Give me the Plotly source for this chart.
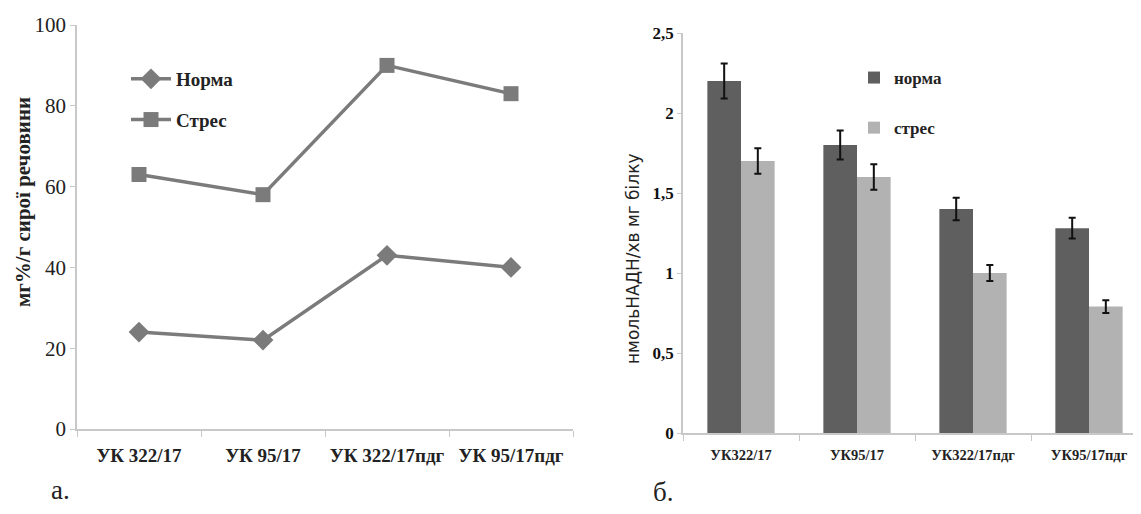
import plotly.graph_objects as go

categories = ["УК 322/17", "УК 95/17", "УК 322/17пдг", "УК 95/17пдг"]
norma_a = [24, 22, 43, 40]
stres_a = [63, 58, 90, 83]
norma_b = [2.2, 1.8, 1.4, 1.28]
stres_b = [1.7, 1.6, 1.0, 0.79]
norma_b_err = [0.11, 0.09, 0.07, 0.065]
stres_b_err = [0.08, 0.08, 0.05, 0.04]
right_labels = [c.replace(" ", "") for c in categories]

OFF = 8  # default body margin of the page
W, H = 1141 - OFF, 514 - OFF
serif = "Liberation Serif, Tinos, DejaVu Serif"
sans = "DejaVu Sans"
line_col = "#7b7b7b"
axis_col = "#c8c8c8"

fig = go.Figure()

fig.add_trace(go.Scatter(
    x=categories, y=norma_a, name="<b>Норма</b>", mode="lines+markers",
    line=dict(color=line_col, width=3.5),
    marker=dict(symbol="diamond", size=16, color=line_col),
    xaxis="x", yaxis="y", legend="legend", legendgroup="a1"))
fig.add_trace(go.Scatter(
    x=categories, y=stres_a, name="<b>Стрес</b>", mode="lines+markers",
    line=dict(color=line_col, width=3.5),
    marker=dict(symbol="square", size=15, color=line_col),
    xaxis="x", yaxis="y", legend="legend", legendgroup="a2"))

fig.add_trace(go.Bar(
    x=categories, y=norma_b, name="<b>норма</b>", marker=dict(color="#5f5f5f", line=dict(width=0)),
    error_y=dict(type="data", array=norma_b_err, color="#111111", thickness=2, width=3.5),
    xaxis="x2", yaxis="y2", legend="legend2", legendgroup="b1"))
fig.add_trace(go.Bar(
    x=categories, y=stres_b, name="<b>стрес</b>", marker=dict(color="#b2b2b2", line=dict(width=0)),
    error_y=dict(type="data", array=stres_b_err, color="#111111", thickness=2, width=3.5),
    xaxis="x2", yaxis="y2", legend="legend2", legendgroup="b2"))

def px_x(p):
    return (p - OFF) / W

def px_y(p):
    return 1 - (p - OFF) / H

# right x-axis runs to the picture edge: 683 px start, 116 px per category
CAT_W = 116
right_end = -0.5 + (1141 - 683) / CAT_W

fig.update_layout(
    width=W, height=H,
    margin=dict(l=0, r=0, t=0, b=0),
    paper_bgcolor="white", plot_bgcolor="white",
    separators=", ",
    bargap=0.42, bargroupgap=0,
    showlegend=True,
    font=dict(family=serif),
    xaxis=dict(domain=[px_x(77), px_x(573)], anchor="y", automargin=False, range=[-0.5, 3.5],
               showline=True, linecolor=axis_col, linewidth=1.5,
               ticks="outside", tickson="boundaries", ticklen=6, tickcolor=axis_col,
               ticklabelstandoff=8,
               showgrid=False, zeroline=False,
               tickfont=dict(family=serif, size=19, color="#222", weight="bold")),
    yaxis=dict(domain=[px_y(429), px_y(25)], anchor="x", automargin=False, range=[0, 100], dtick=20,
               showline=True, linecolor=axis_col, linewidth=1.5, ticks="outside", ticklen=5,
               tickcolor=axis_col, showgrid=False, zeroline=False,
               tickfont=dict(family=serif, size=21, color="#222")),
    xaxis2=dict(domain=[px_x(683), 1], anchor="y2", automargin=False, range=[-0.5, right_end],
                showline=True, linecolor=axis_col, linewidth=1.5,
                tickmode="array", tickvals=categories, ticktext=right_labels,
                ticks="outside", tickson="boundaries", ticklen=6, tickcolor=axis_col,
                ticklabelstandoff=8,
                showgrid=False, zeroline=False,
                tickfont=dict(family=serif, size=14.5, color="#222", weight="bold")),
    yaxis2=dict(domain=[px_y(433), px_y(33)], anchor="x2", automargin=False, range=[0, 2.5], dtick=0.5,
                showline=True, linecolor=axis_col, linewidth=1.5, ticks="outside", ticklen=4,
                tickcolor=axis_col, showgrid=False, zeroline=False,
                tickfont=dict(family=serif, size=17, color="#111", weight="bold")),
    legend=dict(x=px_x(126), y=px_y(60), xanchor="left", yanchor="top",
                bgcolor="rgba(0,0,0,0)", font=dict(family=serif, size=19, color="#222"),
                tracegroupgap=13, itemwidth=40),
    legend2=dict(x=px_x(854), y=px_y(60), xanchor="left", yanchor="top",
                 bgcolor="rgba(0,0,0,0)", font=dict(family=serif, size=17, color="#222"),
                 tracegroupgap=25, itemwidth=30),
)

fig.add_annotation(text="<b>мг%/г сирої речовини</b>", textangle=-90, x=px_x(23), y=px_y(202),
                   xref="paper", yref="paper", showarrow=False, xanchor="center", yanchor="middle",
                   font=dict(family=serif, size=21, color="#222"))
fig.add_annotation(text="нмольНАДН/хв мг білку", textangle=-90, x=px_x(633), y=px_y(259),
                   xref="paper", yref="paper", showarrow=False, xanchor="center", yanchor="middle",
                   font=dict(family=sans, size=17, color="#222"))
fig.add_annotation(text="а.", x=px_x(60), y=px_y(490), xref="paper", yref="paper", showarrow=False,
                   xanchor="center", yanchor="middle",
                   font=dict(family=serif, size=27, color="#222"))
fig.add_annotation(text="б.", x=px_x(663), y=px_y(492), xref="paper", yref="paper", showarrow=False,
                   xanchor="center", yanchor="middle",
                   font=dict(family=serif, size=27, color="#222"))

fig.write_html("out.html")
